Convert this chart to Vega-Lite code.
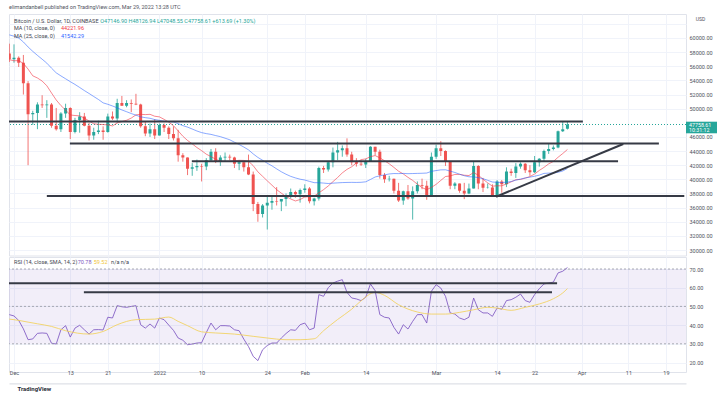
{
"$schema":"https://vega.github.io/schema/vega-lite/v6.json",
"background":"white",
"padding":{"left":8,"top":4,"right":0,"bottom":0},
"title":{"text":"elimandanbell published on TradingView.com, Mar 29, 2022 13:28 UTC","anchor":"start","fontSize":5.5,"font":"Roboto","fontWeight":"normal","color":"#50535e","offset":3.5,"dx":1},
"spacing":0,
"datasets":{
"candles":[
{"date":"2021-11-30","open":57800,"high":59200,"low":56600,"close":57000,"ma10":56930,"ma25":60440},
{"date":"2021-12-01","open":57000,"high":59100,"low":56500,"close":57200,"ma10":56780,"ma25":60260},
{"date":"2021-12-02","open":57200,"high":57400,"low":55900,"close":56500,"ma10":56800,"ma25":59990},
{"date":"2021-12-03","open":56500,"high":57600,"low":52000,"close":53600,"ma10":56400,"ma25":59440},
{"date":"2021-12-04","open":53600,"high":53900,"low":42000,"close":49200,"ma10":55600,"ma25":58730},
{"date":"2021-12-05","open":49200,"high":49700,"low":47700,"close":49400,"ma10":54650,"ma25":58110},
{"date":"2021-12-06","open":49400,"high":50900,"low":47100,"close":50600,"ma10":54340,"ma25":57540},
{"date":"2021-12-07","open":50600,"high":51900,"low":50100,"close":50500,"ma10":53910,"ma25":57000},
{"date":"2021-12-08","open":50500,"high":51200,"low":48700,"close":50600,"ma10":53240,"ma25":56440},
{"date":"2021-12-09","open":50600,"high":50800,"low":47300,"close":47600,"ma10":52220,"ma25":55730},
{"date":"2021-12-10","open":47600,"high":50100,"low":46900,"close":47100,"ma10":51230,"ma25":55070},
{"date":"2021-12-11","open":47100,"high":49500,"low":46700,"close":49300,"ma10":50440,"ma25":54640},
{"date":"2021-12-12","open":49300,"high":50700,"low":48700,"close":50100,"ma10":49800,"ma25":54230},
{"date":"2021-12-13","open":50100,"high":50200,"low":45700,"close":46700,"ma10":49110,"ma25":53820},
{"date":"2021-12-14","open":46700,"high":48700,"low":46500,"close":48400,"ma10":49030,"ma25":53430},
{"date":"2021-12-15","open":48400,"high":49500,"low":46600,"close":48900,"ma10":48980,"ma25":53000},
{"date":"2021-12-16","open":48900,"high":49400,"low":47500,"close":47600,"ma10":48680,"ma25":52560},
{"date":"2021-12-17","open":47600,"high":48000,"low":45500,"close":46200,"ma10":48250,"ma25":52150},
{"date":"2021-12-18","open":46200,"high":47300,"low":45600,"close":46700,"ma10":47860,"ma25":51720},
{"date":"2021-12-19","open":46700,"high":48300,"low":46400,"close":46900,"ma10":47790,"ma25":51300},
{"date":"2021-12-20","open":46900,"high":47500,"low":45600,"close":46700,"ma10":47750,"ma25":50820},
{"date":"2021-12-21","open":46700,"high":49300,"low":46600,"close":48900,"ma10":47710,"ma25":50620},
{"date":"2021-12-22","open":48900,"high":49600,"low":48400,"close":48600,"ma10":47560,"ma25":50380},
{"date":"2021-12-23","open":48600,"high":51400,"low":48000,"close":50800,"ma10":47970,"ma25":50120},
{"date":"2021-12-24","open":50800,"high":51800,"low":50400,"close":50400,"ma10":48170,"ma25":49820},
{"date":"2021-12-25","open":50400,"high":51200,"low":50200,"close":50800,"ma10":48360,"ma25":49570},
{"date":"2021-12-26","open":50800,"high":51300,"low":49500,"close":50700,"ma10":48670,"ma25":49310},
{"date":"2021-12-27","open":50700,"high":52100,"low":50500,"close":50600,"ma10":49120,"ma25":49080},
{"date":"2021-12-28","open":50600,"high":50700,"low":47300,"close":47500,"ma10":49200,"ma25":48840},
{"date":"2021-12-29","open":47500,"high":48100,"low":46100,"close":46500,"ma10":49160,"ma25":48730},
{"date":"2021-12-30","open":46500,"high":47900,"low":46000,"close":47100,"ma10":49200,"ma25":48640},
{"date":"2021-12-31","open":47100,"high":48500,"low":45700,"close":46200,"ma10":48930,"ma25":48460},
{"date":"2022-01-01","open":46200,"high":47900,"low":46200,"close":47700,"ma10":48840,"ma25":48350},
{"date":"2022-01-02","open":47700,"high":47900,"low":46700,"close":47300,"ma10":48490,"ma25":48220},
{"date":"2022-01-03","open":47300,"high":47500,"low":45700,"close":46400,"ma10":48090,"ma25":48170},
{"date":"2022-01-04","open":46400,"high":47500,"low":45500,"close":45800,"ma10":47590,"ma25":48120},
{"date":"2022-01-05","open":45800,"high":47000,"low":42500,"close":43400,"ma10":46860,"ma25":47880},
{"date":"2022-01-06","open":43400,"high":43700,"low":42500,"close":43100,"ma10":46100,"ma25":47600},
{"date":"2022-01-07","open":43100,"high":43100,"low":40600,"close":41500,"ma10":45500,"ma25":47390},
{"date":"2022-01-08","open":41500,"high":42300,"low":40500,"close":41700,"ma10":45020,"ma25":47120},
{"date":"2022-01-09","open":41700,"high":42800,"low":41200,"close":41900,"ma10":44500,"ma25":46840},
{"date":"2022-01-10","open":41900,"high":42200,"low":39700,"close":41800,"ma10":44060,"ma25":46610},
{"date":"2022-01-11","open":41800,"high":43000,"low":41300,"close":42700,"ma10":43560,"ma25":46470},
{"date":"2022-01-12","open":42700,"high":44300,"low":42500,"close":43900,"ma10":43220,"ma25":46360},
{"date":"2022-01-13","open":43900,"high":44400,"low":42300,"close":42600,"ma10":42840,"ma25":46190},
{"date":"2022-01-14","open":42600,"high":43400,"low":41900,"close":43100,"ma10":42570,"ma25":46040},
{"date":"2022-01-15","open":43100,"high":43800,"low":42600,"close":43200,"ma10":42550,"ma25":45820},
{"date":"2022-01-16","open":43200,"high":43500,"low":42700,"close":43100,"ma10":42550,"ma25":45600},
{"date":"2022-01-17","open":43100,"high":43200,"low":41600,"close":42200,"ma10":42620,"ma25":45250},
{"date":"2022-01-18","open":42200,"high":42700,"low":41300,"close":42400,"ma10":42690,"ma25":44930},
{"date":"2022-01-19","open":42400,"high":42500,"low":41100,"close":41700,"ma10":42670,"ma25":44570},
{"date":"2022-01-20","open":41700,"high":43500,"low":40600,"close":40700,"ma10":42560,"ma25":44170},
{"date":"2022-01-21","open":40700,"high":41100,"low":35500,"close":36500,"ma10":41940,"ma25":43600},
{"date":"2022-01-22","open":36500,"high":36800,"low":34000,"close":35100,"ma10":41060,"ma25":43100},
{"date":"2022-01-23","open":35100,"high":36500,"low":34600,"close":36300,"ma10":40430,"ma25":42700},
{"date":"2022-01-24","open":36300,"high":37500,"low":32900,"close":36700,"ma10":39790,"ma25":42280},
{"date":"2022-01-25","open":36700,"high":37600,"low":35700,"close":36950,"ma10":39170,"ma25":41910},
{"date":"2022-01-26","open":36950,"high":38900,"low":36300,"close":36850,"ma10":38540,"ma25":41480},
{"date":"2022-01-27","open":36850,"high":37200,"low":35500,"close":37200,"ma10":38040,"ma25":41070},
{"date":"2022-01-28","open":37200,"high":38000,"low":36200,"close":37700,"ma10":37570,"ma25":40720},
{"date":"2022-01-29","open":37700,"high":38700,"low":37300,"close":38200,"ma10":37220,"ma25":40420},
{"date":"2022-01-30","open":38200,"high":38400,"low":37400,"close":37900,"ma10":36940,"ma25":40200},
{"date":"2022-01-31","open":37900,"high":38700,"low":36700,"close":38500,"ma10":37140,"ma25":40020},
{"date":"2022-02-01","open":38500,"high":39300,"low":38100,"close":38700,"ma10":37500,"ma25":39900},
{"date":"2022-02-02","open":38700,"high":38900,"low":36600,"close":36900,"ma10":37560,"ma25":39710},
{"date":"2022-02-03","open":36900,"high":37400,"low":36300,"close":37300,"ma10":37620,"ma25":39530},
{"date":"2022-02-04","open":37300,"high":41800,"low":37000,"close":41600,"ma10":38090,"ma25":39520},
{"date":"2022-02-05","open":41600,"high":41900,"low":40900,"close":41400,"ma10":38540,"ma25":39470},
{"date":"2022-02-06","open":41400,"high":42600,"low":41100,"close":42400,"ma10":39060,"ma25":39410},
{"date":"2022-02-07","open":42400,"high":44500,"low":41700,"close":43800,"ma10":39670,"ma25":39460},
{"date":"2022-02-08","open":43800,"high":45300,"low":42700,"close":44100,"ma10":40260,"ma25":39500},
{"date":"2022-02-09","open":44100,"high":44800,"low":43200,"close":44400,"ma10":40910,"ma25":39540},
{"date":"2022-02-10","open":44400,"high":45800,"low":43200,"close":43500,"ma10":41410,"ma25":39560},
{"date":"2022-02-11","open":43500,"high":43900,"low":42000,"close":42400,"ma10":41780,"ma25":39570},
{"date":"2022-02-12","open":42400,"high":43000,"low":41800,"close":42200,"ma10":42310,"ma25":39560},
{"date":"2022-02-13","open":42200,"high":42700,"low":41900,"close":42100,"ma10":42790,"ma25":39580},
{"date":"2022-02-14","open":42100,"high":42900,"low":41600,"close":42600,"ma10":42890,"ma25":39650},
{"date":"2022-02-15","open":42600,"high":44700,"low":42500,"close":44600,"ma10":43210,"ma25":39980},
{"date":"2022-02-16","open":44600,"high":44600,"low":43400,"close":43900,"ma10":43360,"ma25":40330},
{"date":"2022-02-17","open":43900,"high":44200,"low":40100,"close":40600,"ma10":43040,"ma25":40500},
{"date":"2022-02-18","open":40600,"high":40900,"low":39500,"close":40000,"ma10":42630,"ma25":40630},
{"date":"2022-02-19","open":40000,"high":40500,"low":39700,"close":40100,"ma10":42200,"ma25":40760},
{"date":"2022-02-20","open":40100,"high":40100,"low":38000,"close":38400,"ma10":41690,"ma25":40820},
{"date":"2022-02-21","open":38400,"high":39500,"low":36800,"close":37000,"ma10":41150,"ma25":40810},
{"date":"2022-02-22","open":37000,"high":38400,"low":36400,"close":38300,"ma10":40760,"ma25":40840},
{"date":"2022-02-23","open":38300,"high":39200,"low":37100,"close":37300,"ma10":40280,"ma25":40800},
{"date":"2022-02-24","open":37300,"high":39000,"low":34300,"close":38300,"ma10":39850,"ma25":40820},
{"date":"2022-02-25","open":38300,"high":39700,"low":38000,"close":39200,"ma10":39310,"ma25":40840},
{"date":"2022-02-26","open":39200,"high":40100,"low":38600,"close":39100,"ma10":38830,"ma25":40860},
{"date":"2022-02-27","open":39100,"high":39800,"low":37100,"close":37700,"ma10":38540,"ma25":40890},
{"date":"2022-02-28","open":37700,"high":43800,"low":37500,"close":43200,"ma10":38860,"ma25":41130},
{"date":"2022-03-01","open":43200,"high":44900,"low":42900,"close":44400,"ma10":39290,"ma25":41240},
{"date":"2022-03-02","open":44400,"high":45400,"low":43300,"close":44000,"ma10":39850,"ma25":41340},
{"date":"2022-03-03","open":44000,"high":44100,"low":41900,"close":42500,"ma10":40400,"ma25":41350},
{"date":"2022-03-04","open":42500,"high":42500,"low":38600,"close":39100,"ma10":40480,"ma25":41160},
{"date":"2022-03-05","open":39100,"high":39600,"low":38600,"close":39400,"ma10":40690,"ma25":40970},
{"date":"2022-03-06","open":39400,"high":39400,"low":38100,"close":38400,"ma10":40700,"ma25":40730},
{"date":"2022-03-07","open":38400,"high":39500,"low":37200,"close":38000,"ma10":40580,"ma25":40510},
{"date":"2022-03-08","open":38000,"high":39400,"low":37900,"close":38700,"ma10":40540,"ma25":40360},
{"date":"2022-03-09","open":38700,"high":42600,"low":38700,"close":41900,"ma10":40960,"ma25":40350},
{"date":"2022-03-10","open":41900,"high":42000,"low":38600,"close":39400,"ma10":40580,"ma25":40240},
{"date":"2022-03-11","open":39400,"high":40200,"low":38200,"close":38800,"ma10":40020,"ma25":40090},
{"date":"2022-03-12","open":38800,"high":39400,"low":38700,"close":38850,"ma10":39500,"ma25":39860},
{"date":"2022-03-13","open":38850,"high":39300,"low":37600,"close":37800,"ma10":39030,"ma25":39620},
{"date":"2022-03-14","open":37800,"high":39900,"low":37600,"close":39700,"ma10":39090,"ma25":39580},
{"date":"2022-03-15","open":39700,"high":39900,"low":38100,"close":39300,"ma10":39080,"ma25":39550},
{"date":"2022-03-16","open":39300,"high":41700,"low":38900,"close":41100,"ma10":39350,"ma25":39590},
{"date":"2022-03-17","open":41100,"high":41500,"low":40500,"close":40900,"ma10":39640,"ma25":39690},
{"date":"2022-03-18","open":40900,"high":42300,"low":40200,"close":41800,"ma10":39950,"ma25":39880},
{"date":"2022-03-19","open":41800,"high":42400,"low":41500,"close":42200,"ma10":39980,"ma25":40040},
{"date":"2022-03-20","open":42200,"high":42300,"low":40900,"close":41300,"ma10":40170,"ma25":40200},
{"date":"2022-03-21","open":41300,"high":42000,"low":40500,"close":41000,"ma10":40390,"ma25":40310},
{"date":"2022-03-22","open":41000,"high":43300,"low":40900,"close":42400,"ma10":40750,"ma25":40440},
{"date":"2022-03-23","open":42400,"high":43000,"low":41800,"close":42900,"ma10":41260,"ma25":40590},
{"date":"2022-03-24","open":42900,"high":44200,"low":42600,"close":44000,"ma10":41690,"ma25":40840},
{"date":"2022-03-25","open":44000,"high":45100,"low":43600,"close":44300,"ma10":42190,"ma25":40880},
{"date":"2022-03-26","open":44300,"high":44800,"low":44100,"close":44500,"ma10":42530,"ma25":40890},
{"date":"2022-03-27","open":44500,"high":46900,"low":44400,"close":46800,"ma10":43120,"ma25":41000},
{"date":"2022-03-28","open":46800,"high":48200,"low":46700,"close":47100,"ma10":43650,"ma25":41180},
{"date":"2022-03-29","open":47146.9,"high":48126.94,"low":47048.55,"close":47758.61,"ma10":44221.96,"ma25":41542.29}
],
"rsi":[
{"date":"2021-11-30","rsi":45.6},{"date":"2021-12-01","rsi":44.9},{"date":"2021-12-02","rsi":42.5},{"date":"2021-12-03","rsi":38.0},{"date":"2021-12-04","rsi":32.2},{"date":"2021-12-05","rsi":32.6},{"date":"2021-12-06","rsi":35.6},{"date":"2021-12-07","rsi":35.8},{"date":"2021-12-08","rsi":35.6},{"date":"2021-12-09","rsi":30.3},{"date":"2021-12-10","rsi":29.9},{"date":"2021-12-11","rsi":37.5},{"date":"2021-12-12","rsi":39.7},{"date":"2021-12-13","rsi":33.6},{"date":"2021-12-14","rsi":38.4},{"date":"2021-12-15","rsi":39.9},{"date":"2021-12-16","rsi":37.5},{"date":"2021-12-17","rsi":35.2},{"date":"2021-12-18","rsi":37.5},{"date":"2021-12-19","rsi":37.6},{"date":"2021-12-20","rsi":37.4},{"date":"2021-12-21","rsi":44.2},{"date":"2021-12-22","rsi":43.8},{"date":"2021-12-23","rsi":50.4},{"date":"2021-12-24","rsi":49.8},{"date":"2021-12-25","rsi":49.5},{"date":"2021-12-26","rsi":50.0},{"date":"2021-12-27","rsi":50.4},{"date":"2021-12-28","rsi":40.2},{"date":"2021-12-29","rsi":38.4},{"date":"2021-12-30","rsi":40.6},{"date":"2021-12-31","rsi":38.4},
{"date":"2022-01-01","rsi":43.8},{"date":"2022-01-02","rsi":42.9},{"date":"2022-01-03","rsi":40.0},{"date":"2022-01-04","rsi":37.2},{"date":"2022-01-05","rsi":33.1},{"date":"2022-01-06","rsi":31.9},{"date":"2022-01-07","rsi":29.5},{"date":"2022-01-08","rsi":29.9},{"date":"2022-01-09","rsi":30.4},{"date":"2022-01-10","rsi":30.6},{"date":"2022-01-11","rsi":36.0},{"date":"2022-01-12","rsi":41.1},{"date":"2022-01-13","rsi":37.5},{"date":"2022-01-14","rsi":39.7},{"date":"2022-01-15","rsi":39.7},{"date":"2022-01-16","rsi":39.5},{"date":"2022-01-17","rsi":37.5},{"date":"2022-01-18","rsi":37.0},{"date":"2022-01-19","rsi":32.5},{"date":"2022-01-20","rsi":28.5},{"date":"2022-01-21","rsi":23.3},{"date":"2022-01-22","rsi":21.0},{"date":"2022-01-23","rsi":26.8},{"date":"2022-01-24","rsi":29.1},{"date":"2022-01-25","rsi":30.4},{"date":"2022-01-26","rsi":30.4},{"date":"2022-01-27","rsi":33.1},{"date":"2022-01-28","rsi":35.5},{"date":"2022-01-29","rsi":37.5},{"date":"2022-01-30","rsi":37.2},{"date":"2022-01-31","rsi":40.2},
{"date":"2022-02-01","rsi":41.1},{"date":"2022-02-02","rsi":37.5},{"date":"2022-02-03","rsi":38.4},{"date":"2022-02-04","rsi":56.3},{"date":"2022-02-05","rsi":55.4},{"date":"2022-02-06","rsi":60.0},{"date":"2022-02-07","rsi":62.5},{"date":"2022-02-08","rsi":63.5},{"date":"2022-02-09","rsi":64.3},{"date":"2022-02-10","rsi":57.5},{"date":"2022-02-11","rsi":54.5},{"date":"2022-02-12","rsi":54.0},{"date":"2022-02-13","rsi":53.1},{"date":"2022-02-14","rsi":54.9},{"date":"2022-02-15","rsi":62.0},{"date":"2022-02-16","rsi":58.4},{"date":"2022-02-17","rsi":45.6},{"date":"2022-02-18","rsi":44.2},{"date":"2022-02-19","rsi":43.8},{"date":"2022-02-20","rsi":38.8},{"date":"2022-02-21","rsi":35.2},{"date":"2022-02-22","rsi":40.2},{"date":"2022-02-23","rsi":37.9},{"date":"2022-02-24","rsi":42.0},{"date":"2022-02-25","rsi":45.6},{"date":"2022-02-26","rsi":45.6},{"date":"2022-02-27","rsi":41.1},{"date":"2022-02-28","rsi":58.1},
{"date":"2022-03-01","rsi":61.6},{"date":"2022-03-02","rsi":59.8},{"date":"2022-03-03","rsi":55.4},{"date":"2022-03-04","rsi":46.5},{"date":"2022-03-05","rsi":45.9},{"date":"2022-03-06","rsi":43.8},{"date":"2022-03-07","rsi":42.9},{"date":"2022-03-08","rsi":44.2},{"date":"2022-03-09","rsi":54.5},{"date":"2022-03-10","rsi":48.2},{"date":"2022-03-11","rsi":46.5},{"date":"2022-03-12","rsi":46.5},{"date":"2022-03-13","rsi":44.7},{"date":"2022-03-14","rsi":49.1},{"date":"2022-03-15","rsi":48.5},{"date":"2022-03-16","rsi":53.1},{"date":"2022-03-17","rsi":53.6},{"date":"2022-03-18","rsi":54.9},{"date":"2022-03-19","rsi":56.6},{"date":"2022-03-20","rsi":53.1},{"date":"2022-03-21","rsi":52.2},{"date":"2022-03-22","rsi":56.3},{"date":"2022-03-23","rsi":59.5},{"date":"2022-03-24","rsi":62.0},{"date":"2022-03-25","rsi":62.5},{"date":"2022-03-26","rsi":63.0},{"date":"2022-03-27","rsi":67.9},{"date":"2022-03-28","rsi":68.8},{"date":"2022-03-29","rsi":70.78}
],
"rsima":[
{"date":"2021-11-30","sma":43.2},{"date":"2021-12-01","sma":42.9},{"date":"2021-12-04","sma":41.6},{"date":"2021-12-06","sma":40.7},{"date":"2021-12-09","sma":39.3},{"date":"2021-12-12","sma":37.0},{"date":"2021-12-17","sma":35.2},{"date":"2021-12-20","sma":36.6},{"date":"2021-12-23","sma":40.2},{"date":"2021-12-27","sma":42.9},{"date":"2021-12-31","sma":43.2},{"date":"2022-01-03","sma":44.3},{"date":"2022-01-05","sma":42.0},{"date":"2022-01-07","sma":39.7},{"date":"2022-01-10","sma":36.4},{"date":"2022-01-13","sma":35.8},{"date":"2022-01-17","sma":35.2},{"date":"2022-01-21","sma":34.0},{"date":"2022-01-24","sma":33.1},{"date":"2022-01-28","sma":32.2},{"date":"2022-01-31","sma":32.2},{"date":"2022-02-03","sma":32.7},{"date":"2022-02-05","sma":37.0},{"date":"2022-02-08","sma":43.0},{"date":"2022-02-11","sma":48.5},{"date":"2022-02-13","sma":53.0},{"date":"2022-02-16","sma":57.5},{"date":"2022-02-18","sma":55.9},{"date":"2022-02-21","sma":50.9},{"date":"2022-02-25","sma":47.0},{"date":"2022-02-28","sma":45.9},{"date":"2022-03-03","sma":45.9},{"date":"2022-03-06","sma":46.8},{"date":"2022-03-09","sma":48.2},{"date":"2022-03-12","sma":49.5},{"date":"2022-03-14","sma":49.1},{"date":"2022-03-17","sma":47.9},{"date":"2022-03-20","sma":49.5},{"date":"2022-03-23","sma":51.3},{"date":"2022-03-26","sma":54.1},{"date":"2022-03-28","sma":57.2},{"date":"2022-03-29","sma":59.52}
],
"levels":[
{"start":"2021-11-29T22:25:00Z","end":"2022-04-01T07:00:00Z","from":48185,"to":48185},
{"start":"2021-12-12T22:00:00Z","end":"2022-04-17T12:00:00Z","from":45070,"to":45070},
{"start":"2022-01-07T22:00:00Z","end":"2022-04-08T19:00:00Z","from":42550,"to":42550},
{"start":"2021-12-08T00:00:00Z","end":"2022-04-22T22:00:00Z","from":37640,"to":37640},
{"start":"2022-03-13T19:00:00Z","end":"2022-04-09T21:30:00Z","from":37540,"to":45000}
],
"rsilevels":[
{"start":"2021-11-29T22:25:00Z","end":"2022-03-26T19:00:00Z","level":62.4},
{"start":"2021-12-15T21:36:00Z","end":"2022-03-25T17:00:00Z","level":57.6}
]
},
"vconcat":[
{
"width":677,"height":241.5,
"layer":[
{"data":{"name":"candles"},"mark":{"type":"rule","strokeWidth":1,"opacity":0.8,"clip":true},
"encoding":{
"x":{"field":"date","type":"temporal","title":null,"scale":{"type":"utc","nice":false,"padding":0,"domain":[{"year":2021,"month":11,"date":29,"hours":22,"minutes":25,"utc":true},{"year":2022,"month":4,"date":23,"hours":6,"minutes":43,"utc":true}]},
"axis":{"values":[{"year":2021,"month":12,"date":1,"utc":true},{"year":2021,"month":12,"date":13,"utc":true},{"year":2021,"month":12,"date":21,"utc":true},{"year":2022,"month":1,"date":1,"utc":true},{"year":2022,"month":1,"date":10,"utc":true},{"year":2022,"month":1,"date":24,"utc":true},{"year":2022,"month":2,"date":1,"utc":true},{"year":2022,"month":2,"date":14,"utc":true},{"year":2022,"month":3,"date":1,"utc":true},{"year":2022,"month":3,"date":14,"utc":true},{"year":2022,"month":3,"date":22,"utc":true},{"year":2022,"month":4,"date":1,"utc":true},{"year":2022,"month":4,"date":11,"utc":true},{"year":2022,"month":4,"date":19,"utc":true}],"tickCount":100,"labels":false,"grid":true,"title":null}},
"y":{"field":"low","type":"quantitative","scale":{"domain":[29222,63396],"nice":false,"zero":false,"padding":0},
"axis":{"orient":"right","values":[30000,32000,34000,36000,38000,40000,42000,44000,46000,50000,52000,54000,56000,58000,60000,62000],"tickCount":100,
"grid":true,"labelExpr":"datum.value == 62000 ? '' : format(datum.value, '.2f')",
"labelAlign":"left","labelBaseline":"middle","labelPadding":3,"labelOverlap":false,"labelFlush":false,
"title":"USD","titleAngle":0,"titleX":14,"titleY":4.5,"titleAlign":"center","titleBaseline":"middle","titleFontSize":5,"titleFontWeight":"normal","titleColor":"#50535e"}},
"y2":{"field":"high"},
"color":{"condition":{"test":"datum.close >= datum.open","value":"#26a69a"},"value":"#ef5350"}
}},
{"data":{"values":[{}]},"mark":{"type":"rule","color":"#26a69a","strokeDash":[1,2],"strokeWidth":1},
"encoding":{"y":{"datum":47758.61,"type":"quantitative"}}},
{"data":{"name":"candles"},"mark":{"type":"bar","width":3,"clip":true},
"encoding":{
"x":{"field":"date","type":"temporal"},
"y":{"field":"open","type":"quantitative"},
"y2":{"field":"close"},
"color":{"condition":{"test":"datum.close >= datum.open","value":"#26a69a"},"value":"#ef5350"}
}},
{"data":{"name":"candles"},"mark":{"type":"line","color":"#f23645","strokeWidth":1,"opacity":0.6,"clip":true},
"encoding":{"x":{"field":"date","type":"temporal"},"y":{"field":"ma10","type":"quantitative"}}},
{"data":{"name":"candles"},"mark":{"type":"line","color":"#2962ff","strokeWidth":1,"opacity":0.55,"clip":true},
"encoding":{"x":{"field":"date","type":"temporal"},"y":{"field":"ma25","type":"quantitative"}}},
{"data":{"name":"levels"},"mark":{"type":"rule","color":"#363a45","strokeWidth":2,"clip":true},
"encoding":{"x":{"field":"start","type":"temporal"},"x2":{"field":"end"},"y":{"field":"from","type":"quantitative"},"y2":{"field":"to"}}},
{"data":{"values":[{}]},"mark":{"type":"rect","color":"#26a69a"},
"encoding":{"x":{"datum":{"year":2022,"month":4,"date":23,"hours":6,"minutes":43,"utc":true},"type":"temporal"},"x2":{"datum":{"year":2022,"month":4,"date":29,"hours":21,"minutes":20,"utc":true}},"y":{"datum":48156,"type":"quantitative"},"y2":{"datum":46515}}},
{"data":{"values":[{}]},"mark":{"type":"text","text":"47758.61","align":"left","baseline":"middle","fontSize":5.3,"color":"#ffffff"},
"encoding":{"x":{"datum":{"year":2022,"month":4,"date":23,"hours":22,"utc":true},"type":"temporal"},"y":{"datum":47700,"type":"quantitative"}}},
{"data":{"values":[{}]},"mark":{"type":"text","text":"10:31:12","align":"left","baseline":"middle","fontSize":5.3,"color":"#ffffff"},
"encoding":{"x":{"datum":{"year":2022,"month":4,"date":23,"hours":22,"utc":true},"type":"temporal"},"y":{"datum":46940,"type":"quantitative"}}},
{"data":{"values":[{}]},"mark":{"type":"text","text":"Bitcoin / U.S. Dollar, 1D, COINBASE","align":"left","baseline":"middle","fontSize":5.5,"color":"#434651"},
"encoding":{"x":{"datum":{"year":2021,"month":12,"date":1,"utc":true},"type":"temporal"},"y":{"datum":62405,"type":"quantitative"}}},
{"data":{"values":[{}]},"mark":{"type":"text","text":"O47146.90  H48126.94  L47048.55  C47758.61  +613.69 (+1.30%)","align":"left","baseline":"middle","fontSize":5.5,"color":"#26a69a"},
"encoding":{"x":{"datum":{"year":2021,"month":12,"date":19,"hours":9,"minutes":36,"utc":true},"type":"temporal"},"y":{"datum":62405,"type":"quantitative"}}},
{"data":{"values":[{}]},"mark":{"type":"text","text":"MA (10, close, 0)","align":"left","baseline":"middle","fontSize":5.5,"color":"#434651"},
"encoding":{"x":{"datum":{"year":2021,"month":12,"date":1,"utc":true},"type":"temporal"},"y":{"datum":61373,"type":"quantitative"}}},
{"data":{"values":[{}]},"mark":{"type":"text","text":"44221.96","align":"left","baseline":"middle","fontSize":5.5,"color":"#f23645"},
"encoding":{"x":{"datum":{"year":2021,"month":12,"date":11,"utc":true},"type":"temporal"},"y":{"datum":61373,"type":"quantitative"}}},
{"data":{"values":[{}]},"mark":{"type":"text","text":"MA (25, close, 0)","align":"left","baseline":"middle","fontSize":5.5,"color":"#434651"},
"encoding":{"x":{"datum":{"year":2021,"month":12,"date":1,"utc":true},"type":"temporal"},"y":{"datum":60325,"type":"quantitative"}}},
{"data":{"values":[{}]},"mark":{"type":"text","text":"41542.29","align":"left","baseline":"middle","fontSize":5.5,"color":"#2962ff"},
"encoding":{"x":{"datum":{"year":2021,"month":12,"date":11,"utc":true},"type":"temporal"},"y":{"datum":60325,"type":"quantitative"}}}
]
},
{
"width":677,"height":115,
"layer":[
{"data":{"values":[{}]},"mark":{"type":"rect","color":"#7e57c2","opacity":0.1},
"encoding":{"y":{"datum":70,"type":"quantitative","scale":{"domain":[14.92,76.42],"nice":false,"zero":false,"padding":0},
"axis":{"orient":"right","values":[20,30,40,50,60,70],"tickCount":100,"format":".2f","grid":true,"labelAlign":"left","labelBaseline":"middle","labelPadding":3,"labelFlush":false,"labelOverlap":false,"title":null}},"y2":{"datum":30}}},
{"data":{"name":"rsi"},"mark":{"type":"line","color":"#7e57c2","strokeWidth":1,"opacity":0.85,"clip":true},
"encoding":{
"x":{"field":"date","type":"temporal","title":null,"scale":{"type":"utc","nice":false,"padding":0,"domain":[{"year":2021,"month":11,"date":29,"hours":22,"minutes":25,"utc":true},{"year":2022,"month":4,"date":23,"hours":6,"minutes":43,"utc":true}]},
"axis":{"values":[{"year":2021,"month":12,"date":1,"utc":true},{"year":2021,"month":12,"date":13,"utc":true},{"year":2021,"month":12,"date":21,"utc":true},{"year":2022,"month":1,"date":1,"utc":true},{"year":2022,"month":1,"date":10,"utc":true},{"year":2022,"month":1,"date":24,"utc":true},{"year":2022,"month":2,"date":1,"utc":true},{"year":2022,"month":2,"date":14,"utc":true},{"year":2022,"month":3,"date":1,"utc":true},{"year":2022,"month":3,"date":14,"utc":true},{"year":2022,"month":3,"date":22,"utc":true},{"year":2022,"month":4,"date":1,"utc":true},{"year":2022,"month":4,"date":11,"utc":true},{"year":2022,"month":4,"date":19,"utc":true}],"tickCount":100,
"grid":true,"labelExpr":"utcdate(datum.value) == 1 ? (utcmonth(datum.value) == 0 ? '2022' : utcFormat(datum.value, '%b')) : '' + utcdate(datum.value)",
"offset":11.4,"labelPadding":-12.7,"labelBaseline":"top","labelAlign":"center","labelFlush":false,"labelOverlap":false,
"domain":true,"domainColor":"#d6d9e1","domainWidth":1,"ticks":false,"tickSize":0,
"title":"TradingView","titleX":8,"titleY":5.5,"titleAlign":"left","titleBaseline":"middle","titleFontSize":6,"titleFontWeight":"bold","titleColor":"#2a2e39"}},
"y":{"field":"rsi","type":"quantitative"}
}},
{"data":{"values":[{"level":70},{"level":50},{"level":30}]},"mark":{"type":"rule","color":"#9598a1","strokeDash":[2,2],"strokeWidth":0.8},
"encoding":{"y":{"field":"level","type":"quantitative"}}},
{"data":{"name":"rsima"},"mark":{"type":"line","color":"#f2d15c","strokeWidth":1,"opacity":0.85,"interpolate":"monotone","clip":true},
"encoding":{"x":{"field":"date","type":"temporal"},"y":{"field":"sma","type":"quantitative"}}},
{"data":{"name":"rsilevels"},"mark":{"type":"rule","color":"#363a45","strokeWidth":2,"clip":true},
"encoding":{"x":{"field":"start","type":"temporal"},"x2":{"field":"end"},"y":{"field":"level","type":"quantitative"}}},
{"data":{"values":[{}]},"mark":{"type":"text","text":"RSI (14, close, SMA, 14, 2)","align":"left","baseline":"middle","fontSize":5.5,"color":"#434651"},
"encoding":{"x":{"datum":{"year":2021,"month":12,"date":1,"utc":true},"type":"temporal"},"y":{"datum":73.85,"type":"quantitative"}}},
{"data":{"values":[{}]},"mark":{"type":"text","text":"70.78","align":"left","baseline":"middle","fontSize":5.5,"color":"#7e57c2"},
"encoding":{"x":{"datum":{"year":2021,"month":12,"date":14,"hours":14,"utc":true},"type":"temporal"},"y":{"datum":73.85,"type":"quantitative"}}},
{"data":{"values":[{}]},"mark":{"type":"text","text":"59.52","align":"left","baseline":"middle","fontSize":5.5,"color":"#f0c537"},
"encoding":{"x":{"datum":{"year":2021,"month":12,"date":18,"utc":true},"type":"temporal"},"y":{"datum":73.85,"type":"quantitative"}}},
{"data":{"values":[{}]},"mark":{"type":"text","text":"n/a  n/a","align":"left","baseline":"middle","fontSize":5.5,"color":"#434651"},
"encoding":{"x":{"datum":{"year":2021,"month":12,"date":21,"hours":17,"utc":true},"type":"temporal"},"y":{"datum":73.85,"type":"quantitative"}}}
]
}
],
"config":{
"view":{"stroke":"#e0e3eb","strokeWidth":1},
"font":"Roboto",
"axis":{"labelFont":"Roboto","labelFontSize":5.5,"labelColor":"#50535e","labelOverlap":false,"domain":false,"ticks":false,"gridColor":"#f0f3fa","gridWidth":1,"titleFont":"Roboto"},
"text":{"font":"Roboto"}
}
}
